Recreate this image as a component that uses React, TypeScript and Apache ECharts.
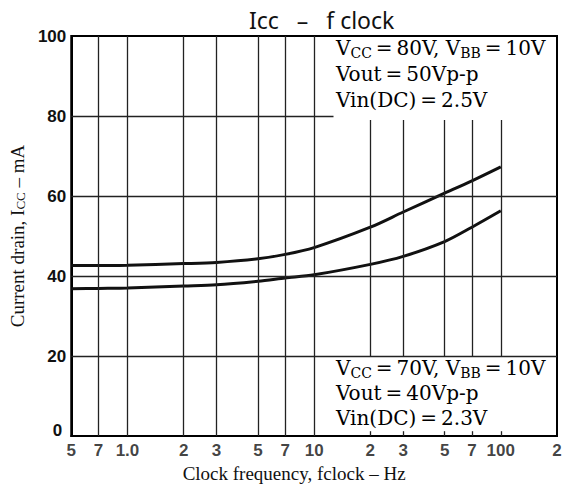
import { useEffect, useRef } from 'react';
import * as echarts from 'echarts';

// Curves
const freqHz = [0.5, 0.7, 1, 2, 3, 5, 7, 10, 20, 30, 50, 70, 100];
const icc80V = [42.6, 42.6, 42.7, 43.1, 43.4, 44.3, 45.4, 47.1, 52.2, 56.0, 60.7, 63.8, 67.3];
const icc70V = [36.8, 36.9, 37.0, 37.5, 37.8, 38.7, 39.5, 40.3, 42.9, 44.9, 48.6, 52.2, 56.3];

// Ticks
const xTickValues = [0.5, 0.7, 1, 2, 3, 5, 7, 10, 20, 30, 50, 70, 100, 200];
const xTickLabels = ['5', '7', '1.0', '2', '3', '5', '7', '10', '2', '3', '5', '7', '100', '2'];
const yTickValues = [0, 20, 40, 60, 80, 100];

// Grid lines
const gridFullVertical = [0.7, 1, 2, 3, 5, 7, 10];
const gridPartialVertical = [20, 30, 50, 70, 100];
const gridFullHorizontal = [20, 40, 60];
const gridShortHorizontal = [80];

const X_MIN = 0.5;
const X_MAX = 200;
const Y_MIN = 0;
const Y_MAX = 100;

const tickFont = '"Liberation Sans Narrow", "Liberation Sans", Arial, sans-serif';
const serifFont = '"Liberation Serif", "Times New Roman", serif';
const noteFont = '"DejaVu Serif", serif';
const TS = '\u2009';

export default function App() {
  const ref = useRef<HTMLDivElement>(null);

  useEffect(() => {
    if (!ref.current) return;
    const chart = echarts.init(ref.current, null, { renderer: 'svg' });

    const segs: number[][][] = [
      ...gridFullVertical.map((v) => [[v, Y_MIN], [v, Y_MAX]]),
      ...gridPartialVertical.map((v) => [[v, 20], [v, 79]]),
      ...gridPartialVertical.map((v) => [[v, Y_MIN], [v, 1.2]]),
      ...gridFullHorizontal.map((v) => [[X_MIN, v], [X_MAX, v]]),
      ...gridShortHorizontal.map((v) => [[X_MIN, v], [12.7, v]]),
    ];

    const noteRich = {
      n: { fontFamily: noteFont, fontSize: 20, color: '#111' },
      s: { fontFamily: noteFont, fontSize: 14, color: '#111', padding: [9, 0, 0, 0] },
    };
    const eq = `${TS}=${TS}`;

    const curveStyle = { color: '#111', width: 3 };

    chart.setOption({
      animation: false,
      backgroundColor: '#fff',
      title: {
        text: 'Icc   –   f clock',
        left: 244,
        top: 3,
        textStyle: { fontFamily: '"Noto Sans", sans-serif', fontSize: 23, fontWeight: 'normal', color: '#111' },
      },
      grid: {
        left: 67,
        right: 13,
        top: 36,
        bottom: 55,
        show: true,
        borderColor: '#000',
        borderWidth: 2,
      },
      xAxis: {
        type: 'log',
        logBase: 10,
        min: X_MIN,
        max: X_MAX,
        name: 'Clock frequency, fclock – Hz',
        nameLocation: 'middle',
        nameGap: 28,
        nameTextStyle: { fontFamily: serifFont, fontSize: 19, color: '#111', padding: [0, 40, 0, 0] },
        axisLine: { show: true, lineStyle: { color: '#000', width: 2 } },
        axisTick: { show: false },
        axisLabel: { show: false },
        splitLine: { show: false },
        minorSplitLine: { show: false },
      },
      yAxis: {
        type: 'value',
        min: Y_MIN,
        max: Y_MAX,
        interval: 20,
        name: 'Current drain, I{sub|CC} – mA',
        nameLocation: 'middle',
        nameGap: 36,
        nameTextStyle: {
          fontFamily: serifFont,
          fontSize: 19,
          color: '#111',
          rich: {
            sub: { fontFamily: serifFont, fontSize: 13, color: '#111', verticalAlign: 'bottom', lineHeight: 14 },
          },
        },
        axisLine: { show: true, lineStyle: { color: '#000', width: 2 } },
        axisTick: { show: false },
        splitLine: { show: false },
        axisLabel: {
          margin: 5,
          fontFamily: tickFont,
          fontWeight: 'bold',
          fontSize: 17,
          color: '#111',
          formatter: (v: number) => (yTickValues.includes(v) ? (v === 0 ? '{z|0}' : String(v)) : ''),
          rich: {
            z: { fontFamily: tickFont, fontWeight: 'bold', fontSize: 17, color: '#111', padding: [0, 4, 12, 0] },
          },
        },
      },
      series: [
        {
          name: 'grid',
          type: 'line',
          data: [],
          silent: true,
          markLine: {
            silent: true,
            symbol: ['none', 'none'],
            label: { show: false },
            lineStyle: { color: '#222', width: 1.3, type: 'solid' },
            data: segs.map(([a, b]) => [{ coord: a }, { coord: b }]),
          },
        },
        {
          name: 'xTicks',
          type: 'scatter',
          silent: true,
          clip: false,
          symbolSize: 0,
          data: xTickValues.map((v, i) => ({ value: [v, Y_MIN], name: xTickLabels[i] })),
          label: {
            show: true,
            position: 'bottom',
            distance: 6,
            formatter: (p: any) => p.name,
            fontFamily: tickFont,
            fontWeight: 'bold',
            fontSize: 17,
            color: '#111',
          },
        },
        {
          name: 'Vcc=80V',
          type: 'line',
          smooth: 0.3,
          showSymbol: false,
          lineStyle: curveStyle,
          data: freqHz.map((f, i) => [f, icc80V[i]]),
        },
        {
          name: 'Vcc=70V',
          type: 'line',
          smooth: 0.3,
          showSymbol: false,
          lineStyle: curveStyle,
          data: freqHz.map((f, i) => [f, icc70V[i]]),
        },
      ],
      graphic: [
        { type: 'text', left: 336, top: 38, style: { text: `{n|V}{s|CC}{n|${eq}80V, V}{s|BB}{n|${eq}10V}`, rich: noteRich } },
        { type: 'text', left: 336, top: 64, style: { text: `{n|Vout${eq}50Vp-p}`, rich: noteRich } },
        { type: 'text', left: 336, top: 90, style: { text: `{n|Vin(DC)${eq}2.5V}`, rich: noteRich } },
        { type: 'text', left: 336, top: 358, style: { text: `{n|V}{s|CC}{n|${eq}70V, V}{s|BB}{n|${eq}10V}`, rich: noteRich } },
        { type: 'text', left: 336, top: 383, style: { text: `{n|Vout${eq}40Vp-p}`, rich: noteRich } },
        { type: 'text', left: 336, top: 408, style: { text: `{n|Vin(DC)${eq}2.3V}`, rich: noteRich } },
      ],
    });

    return () => chart.dispose();
  }, []);

  return <div ref={ref} style={{ width: 570, height: 491, position: 'absolute', left: 0, top: 0 }} />;
}
